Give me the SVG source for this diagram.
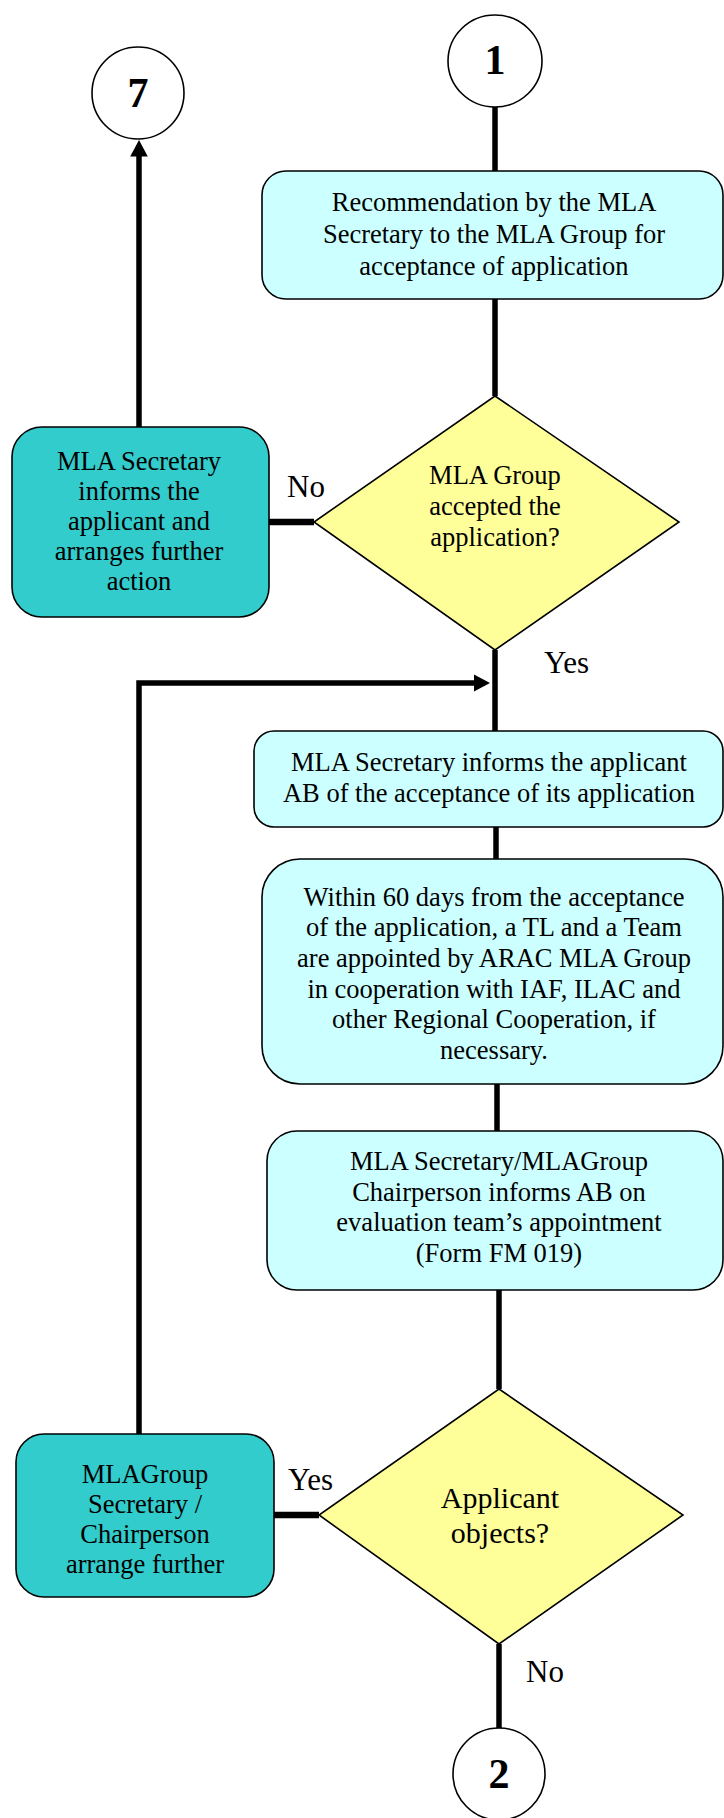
<svg xmlns="http://www.w3.org/2000/svg" width="724" height="1818" viewBox="0 0 724 1818">
<defs>
<marker id="arr" markerWidth="3" markerHeight="3.2" refX="1" refY="1.6" orient="auto" markerUnits="strokeWidth">
<path d="M0,0 L3,1.6 L0,3.2 z" fill="#000"/>
</marker>
<style>
.t{font-family:"Liberation Serif","Times New Roman",serif;font-size:26.5px;fill:#000;text-anchor:middle}
.lbl{font-family:"Liberation Serif","Times New Roman",serif;font-size:31px;fill:#000}
.num{font-family:"Liberation Serif","Times New Roman",serif;font-size:42px;font-weight:bold;fill:#000;text-anchor:middle}
.proc{fill:#CCFFFF;stroke:#000;stroke-width:1.6}
.act{fill:#33CCCC;stroke:#000;stroke-width:1.6}
.dec{fill:#FFFF99;stroke:#000;stroke-width:1.6}
.term{fill:#fff;stroke:#000;stroke-width:1.6}
.c{fill:none;stroke:#000;stroke-width:5.5}
</style>
</defs>
<rect width="724" height="1818" fill="#fff"/>
<g id="connectors">
<line class="c" x1="495" y1="107" x2="495" y2="171"/>
<line class="c" x1="495" y1="299" x2="495" y2="396"/>
<line class="c" x1="269" y1="522" x2="314" y2="522" style="stroke-width:6.5"/>
<line class="c" x1="139" y1="427" x2="139" y2="151" marker-end="url(#arr)"/>
<line class="c" x1="495" y1="650" x2="495" y2="731"/>
<polyline class="c" points="139,1434 139,683 479,683" marker-end="url(#arr)"/>
<line class="c" x1="496" y1="827" x2="496" y2="859"/>
<line class="c" x1="497" y1="1084" x2="497" y2="1131"/>
<line class="c" x1="499" y1="1290" x2="499" y2="1389"/>
<line class="c" x1="274" y1="1515" x2="319" y2="1515" style="stroke-width:6.5"/>
<line class="c" x1="499" y1="1644" x2="499" y2="1729"/>
</g>
<g id="n7">
<ellipse class="term" cx="138" cy="93" rx="46" ry="46"/>
<text class="num" x="138" y="107">7</text>
</g>
<g id="n1">
<ellipse class="term" cx="495" cy="61" rx="47" ry="46"/>
<text class="num" x="495" y="74">1</text>
</g>
<g id="box1">
<rect class="proc" x="262" y="171" width="461" height="128" rx="24"/>
<text class="t" x="494" y="211">Recommendation by the MLA</text>
<text class="t" x="494" y="243">Secretary to the MLA Group for</text>
<text class="t" x="494" y="275">acceptance of application</text>
</g>
<g id="dec1">
<polygon class="dec" points="495,396 679,522 495,650 314,522"/>
<text class="t" x="495" y="484">MLA Group</text>
<text class="t" x="495" y="515">accepted the</text>
<text class="t" x="495" y="546">application?</text>
</g>
<g id="act1">
<rect class="act" x="12" y="427" width="257" height="190" rx="30"/>
<text class="t" x="139" y="470">MLA Secretary</text>
<text class="t" x="139" y="500">informs the</text>
<text class="t" x="139" y="530">applicant and</text>
<text class="t" x="139" y="560">arranges further</text>
<text class="t" x="139" y="590">action</text>
</g>
<text class="lbl" x="287" y="497">No</text>
<text class="lbl" x="544" y="673">Yes</text>
<g id="box2">
<rect class="proc" x="254" y="731" width="469" height="96" rx="20"/>
<text class="t" x="489" y="771">MLA Secretary informs the applicant</text>
<text class="t" x="489" y="802">AB of the acceptance of its application</text>
</g>
<g id="box3">
<rect class="proc" x="262" y="859" width="461" height="225" rx="38"/>
<text class="t" x="494" y="906">Within 60 days from the acceptance</text>
<text class="t" x="494" y="936">of the application, a TL and a Team</text>
<text class="t" x="494" y="967">are appointed by ARAC MLA Group</text>
<text class="t" x="494" y="998">in cooperation with IAF, ILAC and</text>
<text class="t" x="494" y="1028">other Regional Cooperation, if</text>
<text class="t" x="494" y="1059">necessary.</text>
</g>
<g id="box4">
<rect class="proc" x="267" y="1131" width="456" height="159" rx="30"/>
<text class="t" x="499" y="1170">MLA Secretary/MLAGroup</text>
<text class="t" x="499" y="1201">Chairperson informs AB on</text>
<text class="t" x="499" y="1231">evaluation team’s appointment</text>
<text class="t" x="499" y="1262">(Form FM 019)</text>
</g>
<g id="dec2">
<polygon class="dec" points="499,1389 683,1515 499,1644 319,1515"/>
<text class="t" x="500" y="1508" style="font-size:30px">Applicant</text>
<text class="t" x="500" y="1543" style="font-size:30px">objects?</text>
</g>
<g id="act2">
<rect class="act" x="16" y="1434" width="258" height="163" rx="28"/>
<text class="t" x="145" y="1483">MLAGroup</text>
<text class="t" x="145" y="1513">Secretary /</text>
<text class="t" x="145" y="1543">Chairperson</text>
<text class="t" x="145" y="1573">arrange further</text>
</g>
<text class="lbl" x="288" y="1490">Yes</text>
<text class="lbl" x="526" y="1682">No</text>
<g id="n2">
<ellipse class="term" cx="499" cy="1774" rx="46" ry="46"/>
<text class="num" x="499" y="1788">2</text>
</g>
</svg>
